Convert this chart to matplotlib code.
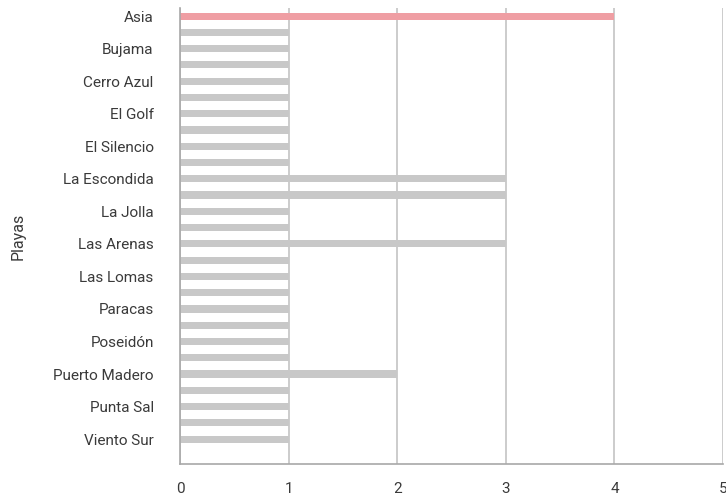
import matplotlib
matplotlib.use("Agg")
import matplotlib.pyplot as plt

playas = ["Asia", "Barranco", "Bujama", "Caballeros", "Cerro Azul", "Chilca",
          "El Golf", "El Paraíso", "El Silencio", "Huanchaco", "La Escondida",
          "La Isla", "La Jolla", "La Tiza", "Las Arenas", "Las Brisas",
          "Las Lomas", "Máncora", "Paracas", "Pocitas", "Poseidón", "Pucusana",
          "Puerto Madero", "Punta Hermosa", "Punta Sal", "San Bartolo", "Viento Sur"]
valores = [4, 1, 1, 1, 1, 1, 1, 1, 1, 1, 3, 3, 1, 1, 3, 1, 1, 1, 1, 1, 1, 1,
           2, 1, 1, 1, 1]
x_ticks = [0, 1, 2, 3, 4, 5]

plt.rcParams['font.family'] = ['Roboto', 'DejaVu Sans']

fig = plt.figure(figsize=(7.26, 4.97), dpi=100)
ax = fig.add_axes([0.248, 0.066, 0.748, 0.918])

colors = ["#EF9EA3" if i == 0 else "#C8C8C8" for i in range(len(playas))]
pos = list(range(len(playas)))
ax.barh(pos, valores, height=0.44, color=colors, zorder=2)

ax.set_xlim(0, 5)
ax.set_ylim(len(playas) + 0.54, -0.5)
ax.set_xticks(x_ticks)
ax.set_xticklabels([str(t) for t in x_ticks])
ax.set_yticks(pos)
ax.set_yticklabels([p if i % 2 == 0 else "" for i, p in enumerate(playas)])

ax.xaxis.grid(True, color="#C4C4C4", linewidth=1.2, zorder=0)
ax.set_axisbelow(True)
for s in ["top", "right"]:
    ax.spines[s].set_visible(False)
for s in ["left", "bottom"]:
    ax.spines[s].set_color("#A8A8A8")
    ax.spines[s].set_linewidth(1.2)
ax.tick_params(axis="both", length=0, labelsize=11, labelcolor="#3A3A3A")
ax.tick_params(axis="y", pad=19)
ax.tick_params(axis="x", pad=13)

ax.set_ylabel("Playas", fontsize=11.5, color="#3A3A3A", labelpad=20,
              fontweight="normal")

fig.savefig("out.png", dpi=100)
